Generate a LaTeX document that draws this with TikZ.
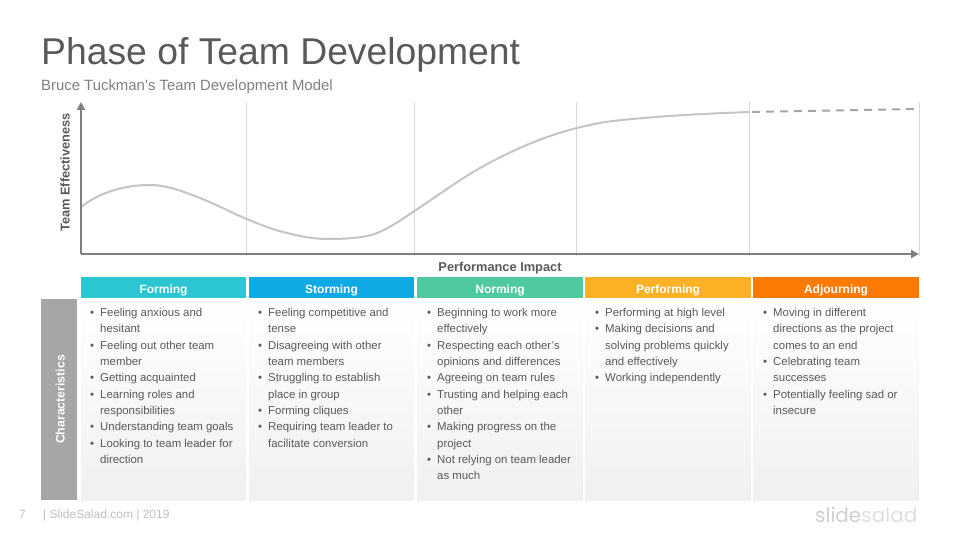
\documentclass[tikz,border=0pt]{standalone}
\usepackage{fontspec}
\setmainfont{Liberation Sans}
\newfontfamily\logofont{Poppins}
\usetikzlibrary{arrows.meta}
\definecolor{titlegray}{HTML}{595959}
\definecolor{subgray}{HTML}{7F7F7F}
\definecolor{axisgray}{HTML}{7F7F7F}
\definecolor{gridgray}{HTML}{D9D9D9}
\definecolor{curvegray}{HTML}{C4C4C4}
\definecolor{dashgray}{HTML}{A6A6A6}
\definecolor{boxgray}{HTML}{A6A6A6}
\definecolor{bodygray}{HTML}{F0F0F0}
\definecolor{footgray}{HTML}{BFBFBF}
\definecolor{logogray}{HTML}{CFCFCF}
\definecolor{logolight}{HTML}{DEDEDE}
\definecolor{formcol}{HTML}{2CC5D2}
\definecolor{stormcol}{HTML}{0FA9E6}
\definecolor{normcol}{HTML}{4FC99F}
\definecolor{perfcol}{HTML}{FDB226}
\definecolor{adjcol}{HTML}{FD7A04}
\newcommand{\bul}{\llap{\textbullet\hspace{6pt}}}
\tikzset{
	head/.style={minimum height=21pt, inner sep=0pt, text=white, text height=11pt, text depth=0pt, font=\fontsize{12}{14}\selectfont\bfseries},
	body/.style={minimum height=201pt, inner sep=0pt, top color=white, bottom color=bodygray},
	list/.style={anchor=north west, inner sep=0pt, align=left, text=titlegray, font=\fontsize{11.4}{16.33}\selectfont},
	axislab/.style={anchor=base, inner sep=0pt, text=titlegray, font=\fontsize{12.8}{14}\selectfont\bfseries},
	foot/.style={anchor=base west, inner sep=0pt, text=footgray, font=\fontsize{12}{14}\selectfont},
	gridline/.style={draw=gridgray, line width=0.9pt},
	axisline/.style={draw=axisgray, line width=2pt, -{Triangle[length=8pt,width=8pt]}},
	curveline/.style={draw=curvegray, line width=2pt}
}
\begin{document}
\begin{tikzpicture}[x=1pt,y=-1pt]
	\useasboundingbox (0,0) rectangle (960,540);
	
	\node[anchor=base west, inner sep=0pt, text=titlegray, font=\fontsize{37.3}{40}\selectfont] (title) at (41,65) {Phase of Team Development};
	\node[anchor=base west, inner sep=0pt, text=subgray, font=\fontsize{14.9}{17}\selectfont] (subtitle) at (41,91) {Bruce Tuckman's Team Development Model};
	
	\coordinate (origin) at (81,254);
	\coordinate (ytip) at (81,102);
	\coordinate (xtip) at (919,254);
	
	\foreach \gx in {246.5,414.5,576.5,749.5,919.5}
		\draw[gridline] (\gx,102) -- (\gx,255.5);
	
	\draw[curveline] (81,207) .. controls (100,192) and (125,185) .. (150,185)
		.. controls (167,185) and (183,191.5) .. (200,198)
		.. controls (215,203.7) and (231,212.5) .. (246.7,219)
		.. controls (259,224) and (271,229) .. (283,232)
		.. controls (297,235.5) and (312,239) .. (327,239)
		.. controls (340,239) and (354,238.6) .. (367,236)
		.. controls (382,233) and (398,222) .. (413,212)
		.. controls (435,197.5) and (458,180.5) .. (480,168)
		.. controls (512,150) and (545,136) .. (577,128)
		.. controls (589,125) and (601,122.4) .. (613,121)
		.. controls (658,116) and (704,113.7) .. (749,112);
	\draw[curveline, draw=dashgray, dash pattern=on 8pt off 6pt] (752,112) -- (914,109);
	
	\draw[axisline] (origin) -- (ytip);
	\draw[axisline] (origin) -- (xtip);
	
	\node[axislab, rotate=90] (ylab) at (69.5,172.5) {Team Effectiveness};
	\node[axislab] (xlab) at (500,271) {Performance Impact};
	
	\node[head, fill=formcol, minimum width=165pt] (forming) at (163.5,287.5) {Forming};
	\node[head, fill=stormcol, minimum width=165pt] (storming) at (331.5,287.5) {Storming};
	\node[head, fill=normcol, minimum width=166pt] (norming) at (500,287.5) {Norming};
	\node[head, fill=perfcol, minimum width=166pt] (performing) at (668,287.5) {Performing};
	\node[head, fill=adjcol, minimum width=166pt] (adjourning) at (836,287.5) {Adjourning};
	
	\node[body, minimum width=165pt] (formbody) at (163.5,399.5) {};
	\node[body, minimum width=165pt] (stormbody) at (331.5,399.5) {};
	\node[body, minimum width=166pt] (normbody) at (500,399.5) {};
	\node[body, minimum width=166pt] (perfbody) at (668,399.5) {};
	\node[body, minimum width=166pt] (adjbody) at (836,399.5) {};
	
	\node[fill=boxgray, minimum width=36pt, minimum height=201pt, inner sep=0pt] (charbox) at (59,399.5) {};
	\node[rotate=90, anchor=base, inner sep=0pt, text=white, font=\fontsize{12.3}{14}\selectfont\bfseries] (charlab) at (64.5,399.5) {Characteristics};
	
	\node[list] (formlist) at (100,308) {\bul Feeling anxious and\\hesitant\\\bul Feeling out other team\\member\\\bul Getting acquainted\\\bul Learning roles and\\responsibilities\\\bul Understanding team goals\\\bul Looking to team leader for\\direction};
	\node[list] (stormlist) at (268,308) {\bul Feeling competitive and\\tense\\\bul Disagreeing with other\\team members\\\bul Struggling to establish\\place in group\\\bul Forming cliques\\\bul Requiring team leader to\\facilitate conversion};
	\node[list] (normlist) at (437,308) {\bul Beginning to work more\\effectively\\\bul Respecting each other's\\opinions and differences\\\bul Agreeing on team rules\\\bul Trusting and helping each\\other\\\bul Making progress on the\\project\\\bul Not relying on team leader\\as much};
	\node[list] (perflist) at (605,308) {\bul Performing at high level\\\bul Making decisions and\\solving problems quickly\\and effectively\\\bul Working independently};
	\node[list] (adjlist) at (773,308) {\bul Moving in different\\directions as the project\\comes to an end\\\bul Celebrating team\\successes\\\bul Potentially feeling sad or\\insecure};
	
	\node[foot] (pagenum) at (19,518) {7};
	\node[foot] (footer) at (43,518) {| SlideSalad.com | 2019};
	\node[anchor=base east, inner sep=0pt, font=\logofont\fontsize{20}{24}\selectfont] (logo) at (917.5,522.5) {\textcolor{logogray}{slide}\textcolor{logolight}{salad}};
\end{tikzpicture}
\end{document}
